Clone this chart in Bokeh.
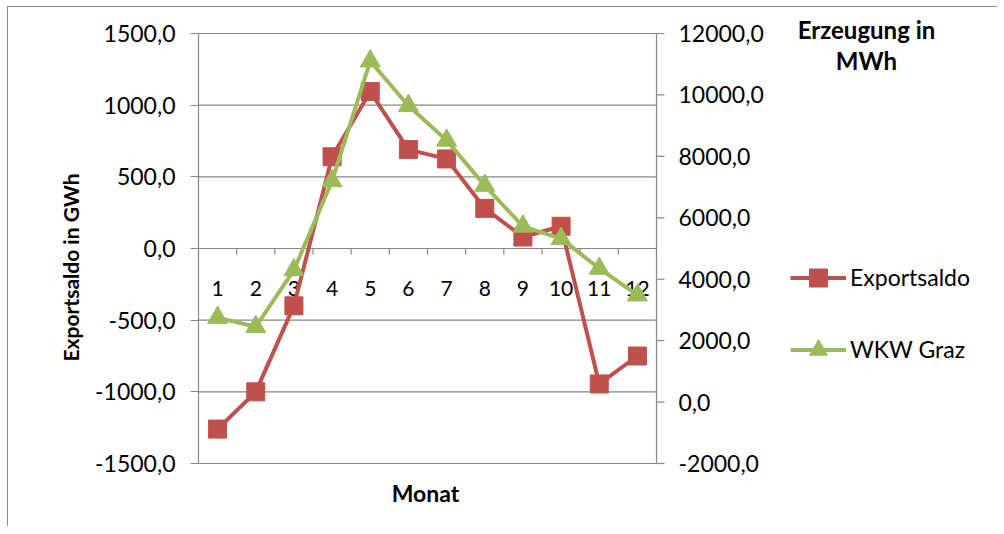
from bokeh.plotting import figure
from bokeh.models import Range1d, FixedTicker, Legend, LegendItem, Label
from bokeh.core.properties import value
from bokeh.embed import file_html
from bokeh.resources import INLINE

# ---- data ----
months = list(range(1, 13))
month_labels = [str(m) for m in months]
exportsaldo = [-1260, -1000, -400, 640, 1095, 690, 625, 280, 80, 155, -945, -750]
wkw_graz = [2750, 2450, 4300, 7200, 11100, 9650, 8520, 7050, 5720, 5320, 4350, 3480]
left_ticks = [-1500, -1000, -500, 0, 500, 1000, 1500]
right_ticks = [-2000, 0, 2000, 4000, 6000, 8000, 10000, 12000]


def fmt(v):
    return f"{v:.1f}".replace(".", ",")


left_labels = [fmt(v) for v in left_ticks]
right_labels = [fmt(v) for v in right_ticks]
category_bounds = [m - 0.5 for m in months] + [months[-1] + 0.5]

RED = "#C0504D"
GREEN = "#9BBB59"
GRID = "#878787"
FONT = "Lato"

# ---- layout (page pixels) ----
FIG_X, FIG_Y = 8, 7           # figure content origin on page
W, H = 990, 520
PLOT_L, PLOT_R = 198, 656     # Excel plot-area edges
PLOT_T, PLOT_B = 33, 463
FRAME_L = 198
FRAME_R = FIG_X + W
FRAME_T = FIG_Y
FRAME_B = FIG_Y + H

cat_px = (PLOT_R - PLOT_L) / len(months)
x0 = months[0] - 0.5
x_rng = Range1d(x0 - (PLOT_L - FRAME_L) / cat_px, x0 + (FRAME_R - PLOT_L) / cat_px)
lmin, lmax = left_ticks[0], left_ticks[-1]
lpp = (lmax - lmin) / (PLOT_B - PLOT_T)
y_rng = Range1d(lmin - (FRAME_B - PLOT_B) * lpp, lmax + (PLOT_T - FRAME_T) * lpp)
rmin, rmax = right_ticks[0], right_ticks[-1]
rpp = (rmax - rmin) / (PLOT_B - PLOT_T)
r_rng = Range1d(rmin - (FRAME_B - PLOT_B) * rpp, rmax + (PLOT_T - FRAME_T) * rpp)
x_end = months[-1] + 0.5

p = figure(width=W, height=H, output_backend="svg", toolbar_location=None,
           x_range=x_rng, y_range=y_rng, x_axis_location=None,
           min_border_left=FRAME_L - FIG_X, min_border_right=0,
           min_border_top=0, min_border_bottom=0)
p.outline_line_color = None
p.styles = {"margin-left": "7px", "margin-top": "6px",
            "border-left": "1px solid #8c8c8c", "border-top": "1px solid #8c8c8c"}
p.extra_y_ranges = {"right": r_rng}
p.xgrid.grid_line_color = None
p.ygrid.grid_line_color = None

# left axis (real axis)
ya = p.yaxis[0]
ya.bounds = (lmin, lmax)
ya.ticker = FixedTicker(ticks=left_ticks)
ya.major_label_overrides = dict(zip(left_ticks, left_labels))
ya.axis_line_color = GRID
ya.axis_line_width = 1.2
ya.major_tick_line_color = GRID
ya.major_tick_line_width = 1.2
ya.major_tick_out = 8
ya.major_tick_in = 0
ya.minor_tick_line_color = None
ya.major_label_text_font = FONT
ya.major_label_text_font_size = "23px"
ya.major_label_text_color = "black"
ya.major_label_standoff = 15
ya.axis_label = "Exportsaldo in GWh"
ya.axis_label_text_font = FONT
ya.axis_label_text_font_style = "bold"
ya.axis_label_text_font_size = "21px"
ya.axis_label_text_color = "black"
ya.axis_label_standoff = 9

# horizontal gridlines of the plot area
p.segment(x0=[x0] * len(left_ticks), y0=left_ticks, x1=[x_end] * len(left_ticks),
          y1=left_ticks, line_color=GRID, line_width=1.2)

# right (secondary) axis drawn on the right scale
p.segment(x0=[x_end], y0=[rmin], x1=[x_end], y1=[rmax], y_range_name="right",
          line_color=GRID, line_width=1.2)
p.segment(x0=[x_end] * len(right_ticks), y0=right_ticks,
          x1=[x_end + 8 / cat_px] * len(right_ticks), y1=right_ticks,
          y_range_name="right", line_color=GRID, line_width=1.2)
p.text(x=[x_end] * len(right_ticks), y=right_ticks, text=right_labels,
       y_range_name="right", x_offset=22, text_align="left", text_baseline="middle",
       text_font=value(FONT), text_font_size="23px", text_color="black")

# category axis crossing at 0: tick marks and labels
p.segment(x0=category_bounds, y0=[0] * len(category_bounds),
          x1=category_bounds, y1=[-6 * lpp] * len(category_bounds),
          line_color=GRID, line_width=1.2)
p.text(x=months, y=[0] * 12, text=month_labels, y_offset=40,
       text_align="center", text_baseline="middle",
       text_font=value(FONT), text_font_size="21px", text_color="black")

# series
r1l = p.line(months, exportsaldo, line_color=RED, line_width=4)
r1m = p.scatter(months, exportsaldo, marker="square", size=18,
                fill_color=RED, line_color=RED)
r2l = p.line(months, wkw_graz, y_range_name="right", line_color=GREEN, line_width=4)
r2m = p.scatter(months, wkw_graz, y_range_name="right", marker="triangle", size=20,
                fill_color=GREEN, line_color=GREEN)

ITEM_H = 45
legend = Legend(items=[LegendItem(label="Exportsaldo", renderers=[r1l, r1m]),
                       LegendItem(label="WKW Graz", renderers=[r2l, r2m])],
                location=(790 - FRAME_L, FRAME_B - (349 + ITEM_H / 2)),
                orientation="vertical",
                glyph_width=56, glyph_height=ITEM_H, label_height=ITEM_H,
                spacing=72 - ITEM_H, padding=0, margin=0, label_standoff=4,
                label_text_font=FONT, label_text_font_size="23px",
                label_text_color="black",
                border_line_color=None, background_fill_alpha=0)
p.add_layout(legend)

# titles drawn in frame (screen units relative to frame bottom-left)
for txt, px, py, fs in (("Erzeugung in", 866, 29, "24px"), ("MWh", 866, 60, "24px"),
                        ("Monat", 425, 492, "23px")):
    p.add_layout(Label(x=px - FRAME_L, y=FRAME_B - py, x_units="screen", y_units="screen",
                       text=txt, text_align="center", text_baseline="middle",
                       text_font=FONT, text_font_style="bold",
                       text_font_size=fs, text_color="black"))

open("out.html", "w").write(file_html(p, INLINE))
